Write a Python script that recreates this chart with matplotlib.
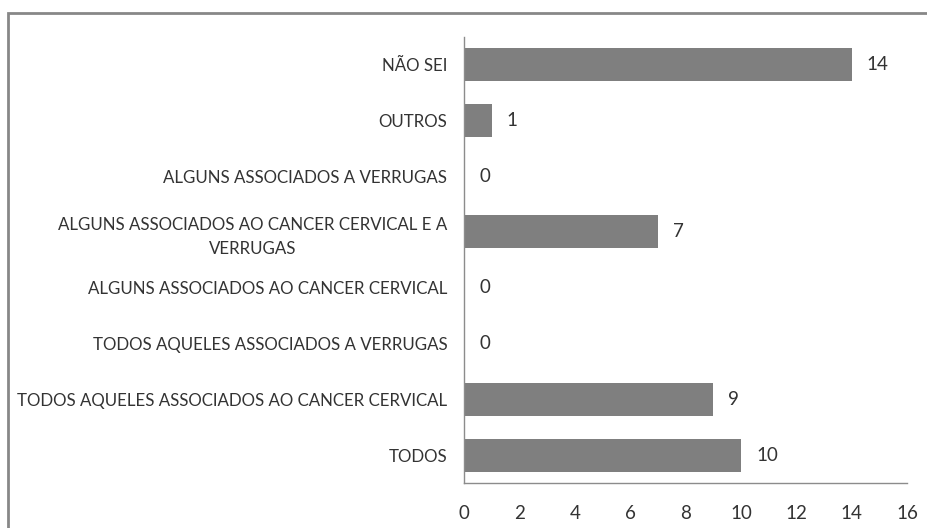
import matplotlib.pyplot as plt
from matplotlib.patches import Rectangle

# categories listed bottom to top
categories = [
    'TODOS',
    'TODOS AQUELES ASSOCIADOS AO CANCER CERVICAL',
    'TODOS AQUELES ASSOCIADOS A VERRUGAS',
    'ALGUNS ASSOCIADOS AO CANCER CERVICAL',
    'ALGUNS ASSOCIADOS AO CANCER CERVICAL E A\nVERRUGAS',
    'ALGUNS ASSOCIADOS A VERRUGAS',
    'OUTROS',
    'NÃO SEI',
]
values = [10, 9, 0, 0, 7, 0, 1, 14]
xticks = [0, 2, 4, 6, 8, 10, 12, 14, 16]

plt.rcParams['font.family'] = ['Lato', 'DejaVu Sans']
text_col = '#333333'

fig = plt.figure(figsize=(9.28, 5.28), dpi=100)
ax = fig.add_axes([0.5, 0.0852, 0.4774, 0.8455])

pos = range(len(categories))
ax.barh(pos, values, height=0.59, color='#7f7f7f')
for p, v in zip(pos, values):
    ax.text(v + 0.55, p, str(v), va='center', ha='left', fontsize=13.5, color=text_col)

ax.set_xlim(0, 16)
ax.set_ylim(-0.5, len(categories) - 0.5)
ax.set_xticks(xticks)
ax.set_yticks(list(pos))
ax.set_yticklabels(categories, multialignment='center', linespacing=1.6)
ax.tick_params(axis='both', length=0, colors=text_col)
ax.tick_params(axis='y', pad=12, labelsize=12.2)
ax.tick_params(axis='x', pad=16, labelsize=13.5)

for s in ['top', 'right']:
    ax.spines[s].set_visible(False)
for s in ['left', 'bottom']:
    ax.spines[s].set_color('#8c8c8c')
    ax.spines[s].set_linewidth(1)

# outer chart border (bottom/right cut off in the screenshot)
fig.patches.append(Rectangle((8 / 928, -0.1), 1.2, 1.1 - 13 / 528,
                             transform=fig.transFigure, fill=False,
                             edgecolor='#878787', linewidth=2))

fig.savefig('out.png', dpi=100)
